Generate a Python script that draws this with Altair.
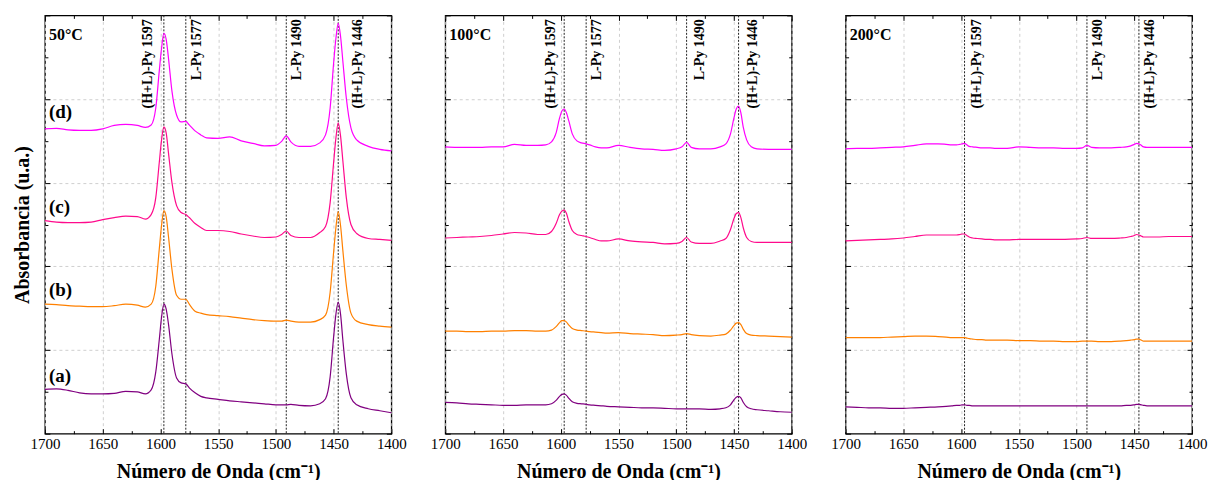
import altair as alt
import pandas as pd

FONT = "Liberation Serif"

WAVENUMBER = [1700, 1690, 1680, 1670, 1660, 1650, 1640, 1630, 1620,
              1613, 1608, 1604, 1601, 1599, 1597, 1595, 1593, 1590, 1586,
              1582, 1578, 1575, 1570, 1565, 1560, 1550, 1540, 1530, 1520,
              1510, 1500, 1495, 1491, 1487, 1480, 1470, 1462, 1457, 1453,
              1450, 1448, 1446, 1444, 1442, 1439, 1435, 1430, 1420, 1410,
              1400]

SAMPLES = ["(a)", "(b)", "(c)", "(d)"]
SAMPLE_COLORS = ["#800080", "#FF8000", "#FF0A8C", "#FF00FF"]

# 50 °C
A50 = [44.5, 45, 43.5, 41, 40, 40, 40.5, 42.5, 42,
       40, 44, 62, 94, 117, 130, 125, 110, 80, 56,
       51, 50, 46, 41, 37.5, 36, 34.5, 33, 32, 31,
       30, 29, 29, 29, 29.5, 28.5, 28, 30, 35, 57,
       97, 120, 132, 120, 94, 60, 36, 29, 25, 23,
       21]
B50 = [130, 129.5, 128.5, 128, 127.5, 127.5, 128.5, 130, 129,
       127, 130, 148, 185, 209, 224, 218, 198, 165, 139,
       135, 135, 130, 123, 121, 119.5, 118.5, 117.5, 116, 114.5,
       113.5, 113, 113, 114, 113, 112, 112, 114.5, 119, 142,
       182, 207, 223, 209, 184, 149, 121, 113, 109.5, 108,
       107]
C50 = [214, 212.5, 212, 212, 212.5, 215, 217, 218.5, 218,
       215.5, 220, 237, 272, 295, 308, 302, 282, 252, 229,
       222, 220, 217, 211, 207, 204, 204, 203, 200.5, 198.5,
       197, 197.5, 200, 203.5, 199, 197, 197, 202, 208, 232,
       272, 297, 312, 299, 274, 237, 210, 201, 196, 195,
       194]
D50 = [306, 306.5, 305, 304.5, 304.5, 306, 309.5, 310.5, 309.5,
       307.5, 310, 327, 364, 387, 402, 396, 377, 344, 320,
       313, 313.5, 310, 304, 300, 297, 296.5, 298, 294, 291.5,
       289, 289.5, 293.5, 299, 293, 288.5, 288.5, 292, 300, 327,
       372, 397, 412, 399, 374, 337, 307, 295, 288.5, 285.5,
       284]

# 100 °C
A100 = [31.5, 31, 30, 29.5, 29, 28.5, 28.5, 29, 29,
        29, 30, 33.5, 37.5, 39.5, 40, 38.5, 35.5, 32, 30.5,
        30, 29.5, 29, 28.5, 28, 27.5, 27, 26.5, 26, 26,
        25.5, 25, 25, 25, 25, 25, 24.5, 25, 26, 29,
        34, 36.5, 37.5, 36, 31.5, 27, 25, 24, 23, 22,
        21.5]
B100 = [103, 103, 102.5, 102.5, 103, 103, 103.5, 103.5, 103,
        103, 104, 107.5, 111.5, 113.5, 113.5, 112, 109, 105.5, 104,
        103.5, 103, 102.5, 102, 101.5, 101, 101.5, 100.5, 100, 99.5,
        98.5, 99, 99.5, 100.5, 99.5, 98.5, 98, 99, 100, 104,
        108.5, 111, 111.5, 109.5, 105, 100.5, 99, 98.5, 98, 97.5,
        97]
C100 = [196.5, 197, 197.5, 198, 199, 200.5, 202, 201.5, 200,
        200, 203, 211, 220, 223.5, 224.5, 221, 213, 204, 200,
        199, 198, 197, 195, 193.5, 193.5, 195.5, 193.5, 192.5, 192,
        190.5, 191, 193, 197, 192.5, 191, 191, 193.5, 196, 205,
        216, 221, 222, 217, 207, 197, 193, 192, 192, 192,
        192]
D100 = [288, 287.5, 287.5, 287.5, 288, 288, 290.5, 289.5, 289.5,
        290, 293, 302, 317, 324, 326, 322, 314, 301, 294,
        292, 291, 290, 288, 287, 287, 289.5, 287.5, 286, 285.5,
        284.5, 286, 288, 292.5, 287.5, 286, 286, 288, 291, 301,
        317, 326, 329, 322, 308, 295, 288, 286, 285.5, 285.5,
        285.5]

# 200 °C
A200 = [27, 26.5, 26, 26, 25.5, 25.5, 26, 26.5, 27,
        27.5, 28, 28.5, 28.5, 29, 29, 28.5, 28.5, 28, 28,
        28, 28, 28, 28, 28, 28, 28, 28, 28, 28,
        28, 28, 28, 28, 28, 28, 28, 28, 28.5, 28.5,
        29, 29.5, 29.5, 29, 28.5, 28, 28, 28, 28, 28,
        28]
B200 = [96.5, 96.5, 96.5, 96.5, 97, 97.5, 98, 98, 97.5,
        97, 96.5, 96.5, 96.5, 96.5, 96.5, 96, 95.5, 95, 94.5,
        94.5, 94, 94, 94, 94, 94, 93.5, 93.5, 93, 93,
        92.5, 92.5, 93, 93, 93, 92.5, 92.5, 93, 93.5, 94,
        94.5, 95, 95, 94, 93, 93, 93, 93, 93, 93,
        93]
C200 = [193.5, 194, 194.5, 195, 195.5, 196.5, 198, 199.5, 199.5,
        199.5, 199.5, 199.5, 200, 200.5, 200.5, 199, 197.5, 196.5, 196,
        195.5, 195, 195, 194.5, 194.5, 194.5, 195, 195, 195, 195,
        195, 195.5, 196, 197, 196, 196, 196, 196.5, 197, 198,
        199, 200, 199.5, 198.5, 197.5, 197.5, 197.5, 197.5, 198, 198,
        198]
D200 = [286, 286.5, 286.5, 287, 287.5, 288, 289.5, 291, 291,
        290.5, 290, 290, 290.5, 291, 291.5, 290, 288.5, 288, 287.5,
        287, 287, 287, 286.5, 286.5, 286.5, 288, 287.5, 287, 287,
        286.5, 286.5, 287, 289.5, 287.5, 287, 287, 287.5, 288, 289,
        290.5, 291.5, 291, 289.5, 288, 287.5, 287.5, 287.5, 287.5, 287.5,
        287.5]

TEMPS = ["50°C", "100°C", "200°C"]
SERIES = [[A50, B50, C50, D50], [A100, B100, C100, D100], [A200, B200, C200, D200]]

PEAK_LINES = [[1597, 1578, 1491, 1446], [1597, 1578, 1491, 1446], [1597, 1491, 1446]]
PEAK_TEXT = [["(H+L)-Py 1597", "L-Py 1577", "L-Py 1490", "(H+L)-Py 1446"],
             ["(H+L)-Py 1597", "L-Py 1577", "L-Py 1490", "(H+L)-Py 1446"],
             ["(H+L)-Py 1597", "L-Py 1490", "(H+L)-Py 1446"]]
PEAK_TEXT_X = [[1611, 1568, 1481.5, 1428.5], [1608.5, 1568.5, 1479.5, 1433.5], [1586, 1481, 1436]]
PEAK_TEXT_TOP = 416

SAMPLE_LABEL_X = 1696.5
SAMPLE_LABEL_Y = [52, 138, 222, 317]
TEMP_LABEL_X = 1696.5
TEMP_LABEL_Y = 395

X_MAJOR = [1700, 1650, 1600, 1550, 1500, 1450, 1400]
X_MINOR = [1675, 1625, 1575, 1525, 1475, 1425]
Y_MAJOR = [0, 84, 168, 252, 336, 420]
Y_MINOR = [42, 126, 210, 294, 378]

for group in SERIES:
    for s in group:
        assert len(s) == len(WAVENUMBER), len(s)

XS = alt.Scale(domain=[1400, 1700], reverse=True, nice=False, zero=False)
YS = alt.Scale(domain=[0, 420], nice=False, zero=False)


def tick_axis(orient, values, size):
    return alt.Axis(orient=orient, values=values, labels=False, domain=False, grid=False,
                    ticks=True, tickSize=size, offset=-size, tickColor="black",
                    tickWidth=1, title=None)


def make_panel(i):
    rows = []
    for s, vals in zip(SAMPLES, SERIES[i]):
        for w, v in zip(WAVENUMBER, vals):
            rows.append({"wn": w, "h": v, "sample": s})
    df = pd.DataFrame(rows)
    first = i == 0

    main_x = alt.Axis(values=X_MAJOR, grid=True, gridDash=[3, 3], gridColor="#cfcfcf",
                      ticks=False, domain=False, labelFont=FONT, labelFontSize=15,
                      labelColor="black", labelPadding=3, format="d",
                      labelFlush=False, labelOverlap=False,
                      title="Número de Onda (cm⁻¹)", titleFont=FONT, titleFontSize=20,
                      titleFontWeight="bold", titleColor="black", titlePadding=10)
    if first:
        main_y = alt.Axis(values=Y_MAJOR[1:-1], grid=True, gridDash=[3, 3], gridColor="#cfcfcf",
                          ticks=False, domain=False, labels=False,
                          title="Absorbancia (u.a.)", titleFont=FONT, titleFontSize=20,
                          titleFontWeight="bold", titleColor="black", titlePadding=12)
    else:
        main_y = alt.Axis(values=Y_MAJOR[1:-1], grid=True, gridDash=[3, 3], gridColor="#cfcfcf",
                          ticks=False, domain=False, labels=False, title=None)

    lines = alt.Chart(df).mark_line(strokeWidth=1.2, interpolate="monotone").encode(
        x=alt.X("wn:Q", scale=XS, axis=main_x),
        y=alt.Y("h:Q", scale=YS, axis=main_y),
        color=alt.Color("sample:N", scale=alt.Scale(domain=SAMPLES, range=SAMPLE_COLORS), legend=None),
        order=alt.Order("wn:Q", sort="descending"),
    )

    layers = []
    # inward tick marks on all four sides
    for xo, yo, xv, yv, size in [("bottom", "left", X_MAJOR, Y_MAJOR, 5),
                                 ("bottom", "left", X_MINOR, Y_MINOR, 3),
                                 ("top", "right", X_MAJOR, Y_MAJOR, 5),
                                 ("top", "right", X_MINOR, Y_MINOR, 3)]:
        layers.append(alt.Chart(df).mark_line(opacity=0).encode(
            x=alt.X("wn:Q", scale=XS, axis=tick_axis(xo, xv, size)),
            y=alt.Y("h:Q", scale=YS, axis=tick_axis(yo, yv, size)),
            detail="sample:N",
        ))

    pk = pd.DataFrame({"pos": PEAK_LINES[i]})
    vlines = alt.Chart(pk).mark_rule(color="#222222", strokeWidth=1, strokeDash=[2, 1.5]).encode(
        x=alt.X("pos:Q", scale=XS, axis=None))

    pt = pd.DataFrame({"x": PEAK_TEXT_X[i], "text": PEAK_TEXT[i], "y": [PEAK_TEXT_TOP] * len(PEAK_TEXT[i])})
    ptext = alt.Chart(pt).mark_text(angle=270, align="right", baseline="middle", font=FONT,
                                    fontSize=14, fontWeight="bold", color="black").encode(
        x=alt.X("x:Q", scale=XS, axis=None),
        y=alt.Y("y:Q", scale=YS, axis=None),
        text="text:N")

    tt = pd.DataFrame({"x": [TEMP_LABEL_X], "y": [TEMP_LABEL_Y], "text": [TEMPS[i]]})
    ttext = alt.Chart(tt).mark_text(align="left", baseline="alphabetic", font=FONT,
                                    fontSize=16, fontWeight="bold", color="black").encode(
        x=alt.X("x:Q", scale=XS, axis=None),
        y=alt.Y("y:Q", scale=YS, axis=None),
        text="text:N")

    parts = [vlines, lines] + layers + [ptext, ttext]
    if first:
        sl = pd.DataFrame({"x": [SAMPLE_LABEL_X] * 4, "y": SAMPLE_LABEL_Y, "text": SAMPLES})
        stext = alt.Chart(sl).mark_text(align="left", baseline="alphabetic", font=FONT,
                                        fontSize=19, fontWeight="bold", color="black").encode(
            x=alt.X("x:Q", scale=XS, axis=None),
            y=alt.Y("y:Q", scale=YS, axis=None),
            text="text:N")
        parts.append(stext)

    return alt.layer(*parts).resolve_axis(x="independent", y="independent").properties(
        width=347, height=419)


chart = alt.hconcat(make_panel(0), make_panel(1), make_panel(2), spacing=54, bounds="flush").properties(
    padding={"left": 12, "top": 13, "right": 0, "bottom": 0},
    background="white",
).configure_view(stroke="black", strokeWidth=1.3)

chart.save("out.html", embed_options={"renderer": "svg", "actions": False})
